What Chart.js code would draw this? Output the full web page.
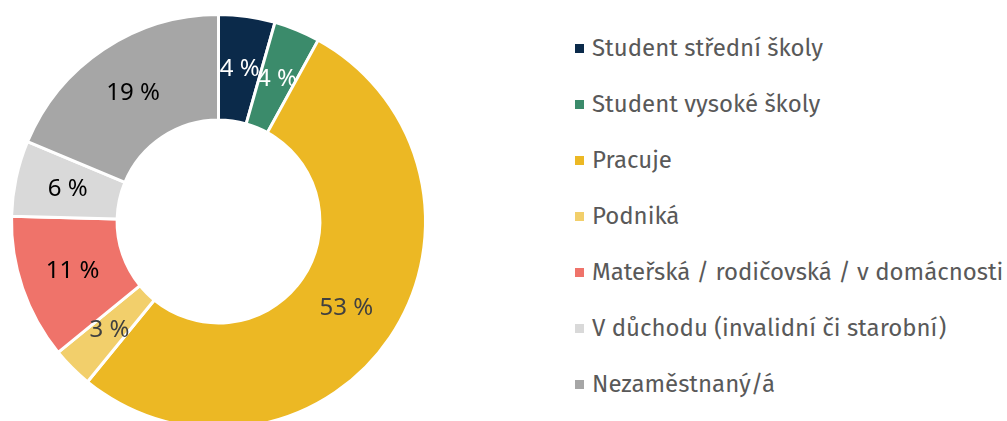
<!DOCTYPE html>
<html lang="cs">
<head>
<meta charset="utf-8">
<script src="https://cdn.jsdelivr.net/npm/chart.js@4/dist/chart.umd.min.js"></script>
<style>
    html, body { margin: 0; padding: 0; background: #fff; overflow: hidden; }
    body { width: 1007px; height: 421px; position: relative; font-family: "Fira Sans", "Noto Sans", sans-serif; }
    #chartBox { position: absolute; left: 0; top: 0; }
    #legend { position: absolute; left: 575px; top: 20px; margin: 0; padding: 0; list-style: none; }
    #legend li { height: 56px; display: flex; align-items: center; font-size: 24px; color: #595959; white-space: nowrap; }
    #legend .mark { width: 9px; height: 9px; margin-right: 8px; flex: none; }
</style>
</head>
<body>
<div id="chartBox"><canvas id="donut" width="440" height="442"></canvas></div>
<ul id="legend"></ul>
<script>
// Data
const categories = ['Student střední školy', 'Student vysoké školy', 'Pracuje', 'Podniká',
    'Mateřská / rodičovská / v domácnosti', 'V důchodu (invalidní či starobní)', 'Nezaměstnaný/á'];
const shares = [4.4, 3.6, 52.9, 3.2, 11.3, 5.9, 18.7];
const sliceColors = ['#0b2a4a', '#3b8b6b', '#ecb824', '#f2cf6b', '#ef736a', '#d9d9d9', '#a6a6a6'];
const labelColors = ['#ffffff', '#ffffff', '#404040', '#404040', '#000000', '#000000', '#000000'];

// Build legend
const legendEl = document.getElementById('legend');
categories.forEach(function (name, i) {
    const li = document.createElement('li');
    const mark = document.createElement('span');
    mark.className = 'mark';
    mark.style.background = sliceColors[i];
    li.appendChild(mark);
    li.appendChild(document.createTextNode(name));
    legendEl.appendChild(li);
});

// Percent labels in the middle of each slice
const sliceLabels = {
    id: 'sliceLabels',
    afterDatasetsDraw(chart) {
        const ctx = chart.ctx;
        const meta = chart.getDatasetMeta(0);
        ctx.save();
        ctx.font = '24px "Noto Sans", sans-serif';
        ctx.textAlign = 'center';
        ctx.textBaseline = 'middle';
        meta.data.forEach(function (arc, i) {
            const pos = arc.tooltipPosition();
            ctx.fillStyle = labelColors[i];
            ctx.fillText(Math.round(shares[i]) + ' %', pos.x, pos.y);
        });
        ctx.restore();
    }
};

new Chart(document.getElementById('donut'), {
    type: 'doughnut',
    data: {
        labels: categories,
        datasets: [{
            data: shares,
            backgroundColor: sliceColors,
            borderColor: '#ffffff',
            borderWidth: 3
        }]
    },
    options: {
        responsive: false,
        animation: false,
        devicePixelRatio: 1,
        cutout: '49%',
        layout: { padding: { left: 10, right: 13, top: 13, bottom: 12 } },
        plugins: {
            legend: { display: false },
            tooltip: { enabled: false }
        }
    },
    plugins: [sliceLabels]
});
</script>
</body>
</html>
